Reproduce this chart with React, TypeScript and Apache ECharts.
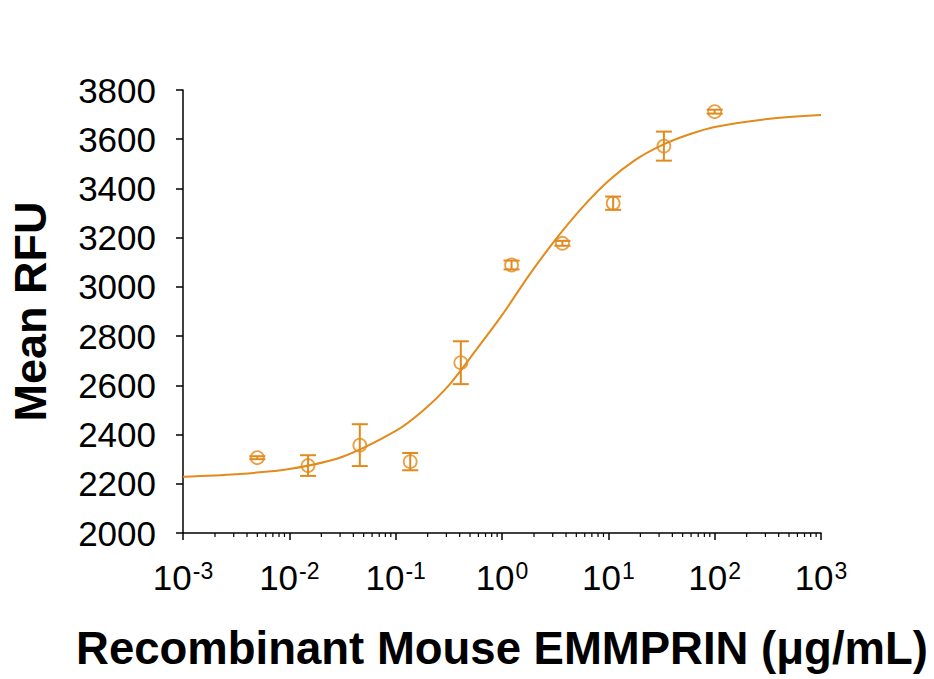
import React, { useEffect, useRef } from "react";
import * as echarts from "echarts";

// Concentration (µg/mL) of measured points
const conc = [0.005, 0.015, 0.046, 0.137, 0.41, 1.23, 3.7, 11.1, 33.3, 100];
// Mean RFU at each concentration
const meanRFU = [2306, 2274, 2357, 2290, 2692, 3089, 3177, 3340, 3572, 3712];
// Error (± RFU)
const errRFU = [6, 42, 85, 35, 87, 18, 10, 27, 59, 8];

// Fitted curve
const fitX = [0.001, 0.00316, 0.01, 0.0316, 0.1, 0.178, 0.316, 0.562, 1, 1.78, 3.16, 5.62, 10, 17.8, 31.6, 56.2, 100, 316, 1000];
const fitY = [2229, 2239, 2260, 2310, 2415, 2495, 2600, 2740, 2885, 3045, 3190, 3320, 3430, 3515, 3575, 3618, 3650, 3682, 3698];

// Minor ticks of the log axis
const minorTicks = [
  0.002, 0.003, 0.004, 0.005, 0.006, 0.007, 0.008, 0.009,
  0.02, 0.03, 0.04, 0.05, 0.06, 0.07, 0.08, 0.09,
  0.2, 0.3, 0.4, 0.5, 0.6, 0.7, 0.8, 0.9,
  2, 3, 4, 5, 6, 7, 8, 9,
  20, 30, 40, 50, 60, 70, 80, 90,
  200, 300, 400, 500, 600, 700, 800, 900,
];

const xTickExponents: Record<string, string> = {
  "0.001": "-3",
  "0.01": "-2",
  "0.1": "-1",
  "1": "0",
  "10": "1",
  "100": "2",
  "1000": "3",
};

const ORANGE = "#E38A1C";
const FONT = "'Liberation Sans', Arial, Helvetica, sans-serif";

export default function App() {
  const ref = useRef<HTMLDivElement>(null);

  useEffect(() => {
    if (!ref.current) return;
    const chart = echarts.init(ref.current, undefined, { renderer: "svg" });

    const fitData = fitX.map((x, i) => [x, fitY[i]]);
    const pointData = conc.map((x, i) => [x, meanRFU[i]]);
    const errData = conc.map((x, i) => [x, meanRFU[i] - errRFU[i], meanRFU[i] + errRFU[i]]);
    const minorData = minorTicks.map((v) => [v, 2000]);

    chart.setOption({
      animation: false,
      backgroundColor: "#ffffff",
      grid: { left: 183, right: 113, top: 90, bottom: 146, containLabel: false },
      xAxis: {
        type: "log",
        logBase: 10,
        min: 0.001,
        max: 1000,
        name: "Recombinant Mouse EMMPRIN (\u03bcg/mL)",
        nameLocation: "middle",
        nameGap: 92,
        nameTextStyle: { fontFamily: FONT, fontSize: 45.5, fontWeight: "bold", color: "#000" },
        axisLine: { show: true, lineStyle: { color: "#000", width: 1.5 } },
        axisTick: { show: true, inside: false, length: 7, lineStyle: { color: "#000", width: 1.5 } },
        splitLine: { show: false },
        axisLabel: {
          margin: 26,
          formatter: (v: number) => {
            const key = String(+v.toPrecision(6));
            const e = xTickExponents[key] ?? "";
            return "{b|10}{s|" + e + "}";
          },
          rich: {
            b: { fontFamily: FONT, fontSize: 35, color: "#000", lineHeight: 36, verticalAlign: "bottom" },
            s: { fontFamily: FONT, fontSize: 23, color: "#000", lineHeight: 36, verticalAlign: "top", padding: [0, 0, 0, 1] },
          },
        },
      },
      yAxis: {
        type: "value",
        min: 2000,
        max: 3800,
        interval: 200,
        name: "Mean RFU",
        nameLocation: "middle",
        nameGap: 130,
        nameTextStyle: { fontFamily: FONT, fontSize: 45, fontWeight: "bold", color: "#000" },
        axisLine: { show: true, lineStyle: { color: "#000", width: 1.5 } },
        axisTick: { show: true, inside: false, length: 7, lineStyle: { color: "#000", width: 1.5 } },
        splitLine: { show: false },
        axisLabel: {
          margin: 27,
          fontFamily: FONT,
          fontSize: 35,
          color: "#000",
          formatter: (v: number) => String(v),
        },
      },
      series: [
        {
          type: "custom",
          name: "minorTicks",
          silent: true,
          clip: false,
          data: minorData,
          encode: { x: 0, y: 1 },
          renderItem: (_p: any, api: any) => {
            const p = api.coord([api.value(0), api.value(1)]);
            return {
              type: "line",
              shape: { x1: p[0], y1: p[1], x2: p[0], y2: p[1] + 4 },
              style: { stroke: "#000", lineWidth: 1.2 },
            };
          },
          z: 1,
        },
        {
          type: "line",
          name: "fit",
          data: fitData,
          smooth: 0.3,
          showSymbol: false,
          symbol: "none",
          lineStyle: { color: ORANGE, width: 2 },
          z: 2,
        },
        {
          type: "custom",
          name: "error",
          data: errData,
          encode: { x: 0, y: [1, 2] },
          renderItem: (_p: any, api: any) => {
            const x = api.value(0);
            const lo = api.coord([x, api.value(1)]);
            const hi = api.coord([x, api.value(2)]);
            const w = 8;
            const st = { stroke: ORANGE, lineWidth: 2 };
            return {
              type: "group",
              children: [
                { type: "line", shape: { x1: lo[0], y1: lo[1], x2: hi[0], y2: hi[1] }, style: st },
                { type: "line", shape: { x1: lo[0] - w, y1: lo[1], x2: lo[0] + w, y2: lo[1] }, style: st },
                { type: "line", shape: { x1: hi[0] - w, y1: hi[1], x2: hi[0] + w, y2: hi[1] }, style: st },
              ],
            };
          },
          z: 3,
        },
        {
          type: "scatter",
          name: "points",
          data: pointData,
          symbol: "circle",
          symbolSize: 13,
          itemStyle: { color: "rgba(0,0,0,0)", borderColor: ORANGE, borderWidth: 1.8 },
          z: 4,
        },
      ],
    });

    return () => chart.dispose();
  }, []);

  return (
    <div
      ref={ref}
      style={{ position: "fixed", left: 0, top: 0, width: 934, height: 679, background: "#fff" }}
    />
  );
}
